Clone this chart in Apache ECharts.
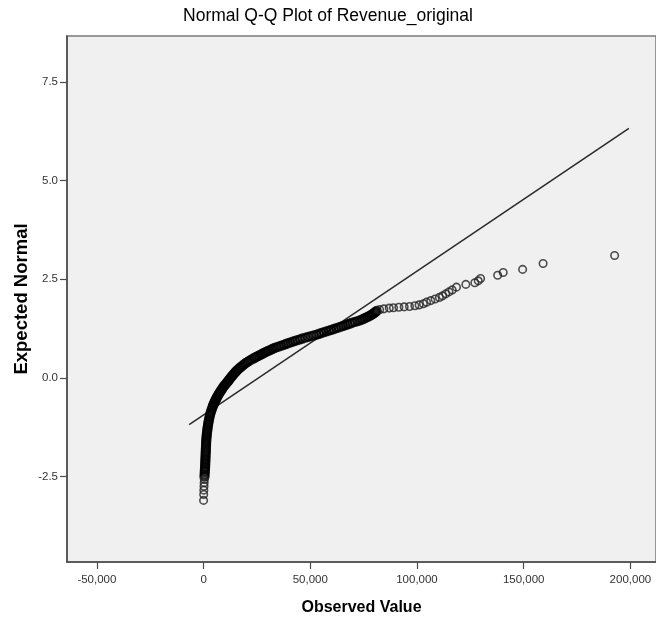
<!DOCTYPE html>
<html>
<head>
<meta charset="utf-8">
<script src="https://cdn.jsdelivr.net/npm/echarts@6/dist/echarts.min.js"></script>
<style>
  html, body { margin: 0; padding: 0; background: #ffffff; }
  #chart { width: 656px; height: 622px; }
</style>
</head>
<body>
<div id="chart"></div>
<script>
// ---- Data ----
const chartTitle = 'Normal Q-Q Plot of Revenue_original';
const xAxisName = 'Observed Value';
const yAxisName = 'Expected Normal';

// [observed value, expected normal value]
const qqPoints = [
  [0,-3.10],[50,-2.95],[120,-2.84],[200,-2.74],[280,-2.65],[350,-2.57],[420,-2.50],[490,-2.44],[560,-2.38],[620,-2.33],[680,-2.28],
  [720,-2.24],[760,-2.19],[800,-2.14],[840,-2.09],[880,-2.04],[920,-1.99],[960,-1.94],[1000,-1.89],[1040,-1.84],[1080,-1.79],
  [1120,-1.74],[1160,-1.69],[1200,-1.64],[1250,-1.59],[1320,-1.54],[1400,-1.49],[1490,-1.44],[1590,-1.39],[1700,-1.34],[1820,-1.29],
  [1950,-1.24],[2090,-1.19],[2240,-1.14],[2400,-1.09],[2580,-1.04],[2780,-0.99],[3000,-0.94],[3250,-0.89],[3530,-0.84],[3840,-0.79],[4180,-0.74],
  [4450,-0.70],[4680,-0.67],[4920,-0.64],[5170,-0.61],[5430,-0.58],[5700,-0.55],[5980,-0.52],[6270,-0.49],[6570,-0.46],[6880,-0.43],
  [7200,-0.40],[7540,-0.37],[7900,-0.34],[8280,-0.31],[8640,-0.28],[8970,-0.25],[9350,-0.22],[9800,-0.19],[10250,-0.16],[10720,-0.13],
  [11200,-0.10],[11620,-0.07],[12040,-0.04],[12460,-0.01],[12900,0.02],[13350,0.05],[13800,0.08],[14270,0.11],[14780,0.14],[15290,0.17],
  [15800,0.20],[16420,0.23],[17050,0.26],[17680,0.29],[18380,0.32],[19100,0.35],[19820,0.38],[20600,0.41],[21500,0.44],[22500,0.47],[23550,0.50],
  [24200,0.52],[24900,0.54],[25600,0.56],[26300,0.58],[27000,0.60],[27750,0.62],[28500,0.64],[29250,0.66],[30000,0.68],[30800,0.70],
  [31600,0.72],[32400,0.74],[33300,0.76],[34300,0.78],[35400,0.80],[36400,0.82],[37500,0.84],[38500,0.86],[39600,0.88],[40700,0.90],
  [41800,0.92],[42800,0.94],[43900,0.96],[45100,0.98],[46300,1.00],[47700,1.02],[49000,1.04],[50300,1.06],[51600,1.08],[52900,1.10],
  [54200,1.12],[55300,1.14],[56400,1.16],[57500,1.18],[58700,1.20],[59800,1.22],[61000,1.24],[62200,1.26],[63300,1.28],[64400,1.30],
  [65400,1.32],[66500,1.34],[67500,1.36],[68600,1.38],[69700,1.40],[70900,1.42],[72100,1.44],[73200,1.46],[74100,1.48],[75000,1.50],
  [75800,1.52],[76600,1.54],[77300,1.56],[78000,1.58],[78600,1.60],[79200,1.62],[79800,1.64],[80300,1.66],[80700,1.68],[81100,1.70],
  [82500,1.73],[84500,1.75],[87000,1.77],[89000,1.78],[91500,1.79],[94000,1.80],[96500,1.81],[99000,1.83],[101000,1.85],[103000,1.88],
  [104500,1.92],[106500,1.96],[108500,2.00],[110500,2.04],[112000,2.08],[113500,2.13],[115000,2.18],[116500,2.23],[118500,2.30],
  [122900,2.37],[127100,2.41],[128700,2.46],[129800,2.52],[137800,2.60],[140400,2.67],[149500,2.75],[159100,2.90],[192600,3.10]
];

// reference line end points
const refLineX = [-6750, 199300];
const refLineY = [-1.18, 6.32];

// axis ticks
const xTickValues = [-50000, 0, 50000, 100000, 150000, 200000];
const yTickValues = [-2.5, 0, 2.5, 5, 7.5];
const xRange = [-64000, 212000];
const yRange = [-4.66, 8.66];

// ---- Chart ----
const FONT = '"Liberation Sans", Arial, sans-serif';
function commaFmt(v) {
  return String(Math.round(v)).replace(/\B(?=(\d{3})+(?!\d))/g, ',');
}

// where the overlapping circles pile up into a solid band
const denseStart = qqPoints.findIndex(function (p) { return p[1] > -2.52; });
const denseEnd = qqPoints.findIndex(function (p) { return p[0] > 81100; });
const sparsePoints = qqPoints.slice(0, denseStart).concat(qqPoints.slice(denseEnd));
const densePoints = qqPoints.slice(denseStart, denseEnd);

const chart = echarts.init(document.getElementById('chart'), null, { renderer: 'canvas' });
chart.setOption({
  animation: false,
  backgroundColor: '#ffffff',
  title: {
    text: chartTitle,
    left: 'center',
    top: 2,
    textStyle: { fontFamily: FONT, fontSize: 17.5, fontWeight: 'normal', color: '#000' }
  },
  grid: {
    left: 67, right: -2, top: 36, bottom: 60,
    show: true,
    backgroundColor: '#f0f0f0',
    borderColor: '#7a7a7a',
    borderWidth: 1.5
  },
  xAxis: {
    type: 'value',
    min: xRange[0], max: xRange[1],
    name: xAxisName,
    nameLocation: 'middle',
    nameGap: 38,
    nameMoveOverlap: false,
    nameTextStyle: { fontFamily: FONT, fontSize: 16, fontWeight: 'bold', color: '#000' },
    axisLine: { show: true, onZero: false, lineStyle: { color: '#4a4a4a', width: 1.6 } },
    axisTick: { show: true, customValues: xTickValues, length: 7, lineStyle: { color: '#4a4a4a', width: 1.2 } },
    axisLabel: {
      customValues: xTickValues,
      formatter: commaFmt,
      margin: 12,
      fontFamily: FONT, fontSize: 11.5, color: '#333'
    },
    splitLine: { show: false }
  },
  yAxis: {
    type: 'value',
    min: yRange[0], max: yRange[1],
    name: yAxisName,
    nameLocation: 'middle',
    nameGap: 36,
    nameMoveOverlap: false,
    nameTextStyle: { fontFamily: FONT, fontSize: 18.5, fontWeight: 'bold', color: '#000' },
    axisLine: { show: true, onZero: false, lineStyle: { color: '#4a4a4a', width: 1.6 } },
    axisTick: { show: true, customValues: yTickValues, length: 7, lineStyle: { color: '#4a4a4a', width: 1.2 } },
    axisLabel: {
      customValues: yTickValues,
      formatter: function (v) { return Number(v).toFixed(1); },
      margin: 9,
      fontFamily: FONT, fontSize: 11.5, color: '#333'
    },
    splitLine: { show: false }
  },
  series: [
    {
      type: 'line',
      data: refLineX.map(function (x, i) { return [x, refLineY[i]]; }),
      symbol: 'none',
      silent: true,
      lineStyle: { color: '#2a2a2a', width: 1.5 },
      z: 2
    },
    {
      type: 'scatter',
      data: densePoints,
      symbol: 'circle',
      symbolSize: 8,
      silent: true,
      itemStyle: { color: 'rgba(0,0,0,0)', borderColor: '#000', borderWidth: 2.3 },
      z: 3
    },
    {
      type: 'scatter',
      data: sparsePoints,
      symbol: 'circle',
      symbolSize: 7.5,
      silent: true,
      itemStyle: { color: 'rgba(0,0,0,0)', borderColor: '#222', borderWidth: 1.6 },
      z: 3
    }
  ]
});
</script>
</body>
</html>
